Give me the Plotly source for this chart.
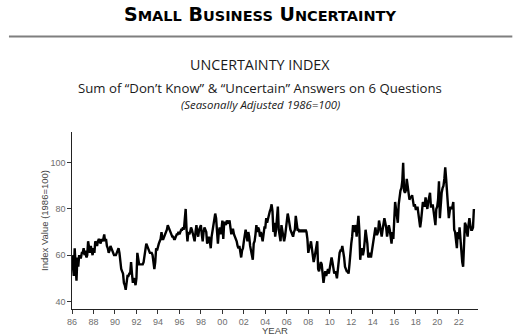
import plotly.graph_objects as go

# Monthly Uncertainty Index readings, Jan 1986 - Jun 2023 (seasonally adjusted, 1986=100)
start_year = 1986
index_values = [
    60, 55, 51, 63, 52, 49, 59, 55, 60, 59, 59, 61,   # 1986
    61, 63, 60, 62, 59, 60, 66, 62, 61, 64, 61, 60,   # 1987
    63, 61, 66, 65, 64, 66, 67, 66, 65, 67, 66, 67,   # 1988
    69, 66, 67, 64, 63, 61, 62, 64, 63, 62, 61, 60,   # 1989
    60, 60, 61, 62, 63, 61, 57, 54, 53, 52, 48, 47,   # 1990
    45, 48, 51, 51, 52, 52, 57, 52, 48, 50, 49, 47,   # 1991
    50, 61, 58, 56, 56, 56, 56, 56, 57, 60, 63, 65,   # 1992
    64, 63, 62, 61, 61, 61, 60, 55, 54, 57, 63, 62,   # 1993
    64, 65, 66, 67, 70, 67, 67, 68, 69, 70, 71, 73,   # 1994
    72, 71, 70, 69, 68, 68, 67, 67, 68, 69, 69, 70,   # 1995
    69, 70, 71, 71, 72, 71, 75, 80, 71, 66, 70, 69,   # 1996
    70, 72, 71, 69, 67, 66, 70, 73, 70, 68, 71, 72,   # 1997
    73, 69, 66, 70, 72, 71, 70, 65, 67, 68, 66, 63,   # 1998
    68, 71, 72, 75, 78, 76, 72, 65, 70, 72, 69, 71,   # 1999
    75, 67, 74, 74, 73, 75, 74, 74, 75, 70, 69, 71,   # 2000
    71, 69, 68, 67, 66, 64, 63, 64, 60, 59, 62, 63,   # 2001
    66, 68, 71, 69, 66, 70, 68, 64, 62, 60, 58, 65,   # 2002
    66, 69, 73, 70, 72, 71, 68, 70, 67, 66, 69, 72,   # 2003
    72, 76, 74, 76, 78, 79, 80, 82, 79, 70, 74, 68,   # 2004
    71, 75, 81, 71, 68, 66, 73, 71, 69, 66, 68, 71,   # 2005
    76, 78, 76, 72, 71, 70, 69, 68, 70, 71, 77, 74,   # 2006
    71, 71, 70, 71, 70, 71, 70, 71, 70, 71, 70, 67,   # 2007
    61, 63, 64, 66, 63, 62, 57, 59, 61, 64, 66, 54,   # 2008
    53, 55, 57, 56, 52, 48, 51, 53, 51, 53, 54, 52,   # 2009
    55, 56, 59, 57, 55, 52, 53, 52, 50, 55, 58, 61,   # 2010
    62, 62, 64, 62, 59, 55, 54, 53, 53, 52, 56, 63,   # 2011
    65, 68, 73, 70, 72, 73, 68, 74, 77, 71, 58, 62,   # 2012
    63, 60, 62, 66, 71, 68, 65, 59, 60, 61, 59, 62,   # 2013
    65, 66, 70, 72, 69, 69, 70, 75, 73, 71, 68, 71,   # 2014
    74, 76, 74, 72, 68, 71, 73, 71, 67, 65, 70, 67,   # 2015
    75, 83, 80, 77, 74, 82, 87, 88, 89, 92, 100, 88,  # 2016
    87, 88, 93, 89, 87, 84, 85, 85, 86, 83, 81, 82,   # 2017
    80, 80, 81, 78, 75, 72, 75, 78, 83, 82, 81, 85,   # 2018
    82, 80, 83, 85, 87, 81, 81, 82, 78, 75, 73, 80,   # 2019
    81, 84, 92, 76, 83, 87, 89, 90, 93, 98, 93, 88,   # 2020
    83, 76, 79, 81, 80, 81, 83, 71, 70, 66, 63, 70,   # 2021
    67, 72, 66, 62, 57, 55, 70, 74, 73, 70, 68, 73,   # 2022
    76, 73, 71, 71, 72, 80,                           # 2023
]

tick_years = list(range(1986, 2023, 2))
tick_labels = [f"{y % 100:02d}" for y in tick_years]
y_ticks = [40, 60, 80, 100]

# fractional-year position of each monthly observation
months = [start_year + i / 12 for i in range(len(index_values))]

W, H = 522, 335
L, R, T, B = 72, 44.3, 132, 26
pw, ph = W - L - R, H - T - B


def px(x):
    return (x - L) / pw


def py(y):
    return (H - B - y) / ph


fig = go.Figure()
fig.add_trace(go.Scatter(
    x=months, y=index_values, mode="lines",
    line=dict(color="#000000", width=2.4),
    hoverinfo="skip", showlegend=False,
))

tick_font = dict(family="Liberation Sans, Arial, sans-serif", size=9, color="#6e6e6e")

fig.update_layout(
    width=W, height=H,
    margin=dict(l=L, r=R, t=T, b=B, autoexpand=False),
    paper_bgcolor="white", plot_bgcolor="white",
    xaxis=dict(
        range=[1986, 2023.8], tickvals=tick_years, ticktext=tick_labels,
        showgrid=False, zeroline=False, showline=True, linecolor="#222222", linewidth=1.4,
        ticks="outside", ticklen=3.5, tickwidth=1, tickcolor="#333333",
        tickfont=tick_font, automargin=False,
    ),
    yaxis=dict(
        range=[36.7, 113.3], tickvals=y_ticks,
        showgrid=False, zeroline=False, showline=True, linecolor="#222222", linewidth=1.4,
        ticks="outside", ticklen=3.5, tickwidth=1, tickcolor="#333333",
        tickfont=tick_font, automargin=False,
    ),
    shapes=[dict(
        type="line", xref="paper", yref="paper",
        x0=px(9), x1=px(512), y0=py(36.5), y1=py(36.5),
        line=dict(color="#7f7f7f", width=2),
    )],
)

small = "font-size:14.5px"
title_html = (
    f"<b>S<span style='{small}'>MALL</span> "
    f"B<span style='{small}'>USINESS</span> "
    f"U<span style='{small}'>NCERTAINTY</span></b>"
)

annotations = [
    dict(text=title_html, x=px(260), y=py(14),
         font=dict(family="DejaVu Sans, sans-serif", size=19, color="#000000")),
    dict(text="UNCERTAINTY INDEX", x=px(260), y=py(64),
         font=dict(family="Open Sans, sans-serif", size=14.3, color="#1a1a1a")),
    dict(text="Sum of \u201cDon\u2019t Know\u201d & \u201cUncertain\u201d Answers on 6 Questions",
         x=px(260), y=py(88),
         font=dict(family="Open Sans, sans-serif", size=13.2, color="#1a1a1a")),
    dict(text="<i>(Seasonally Adjusted 1986=100)</i>", x=px(260), y=py(104.5),
         font=dict(family="Open Sans, sans-serif", size=11.4, color="#1a1a1a")),
    dict(text="YEAR", x=px(275), y=py(330),
         font=dict(family="Liberation Sans, Arial, sans-serif", size=9.5, color="#444444")),
    dict(text="Index Value (1986=100)", x=px(44), y=py(220), textangle=-90,
         font=dict(family="Liberation Sans, Arial, sans-serif", size=9.5, color="#444444")),
]
for a in annotations:
    a.update(xref="paper", yref="paper", xanchor="center", yanchor="middle", showarrow=False)
    fig.add_annotation(**a)

fig.write_html("out.html")
